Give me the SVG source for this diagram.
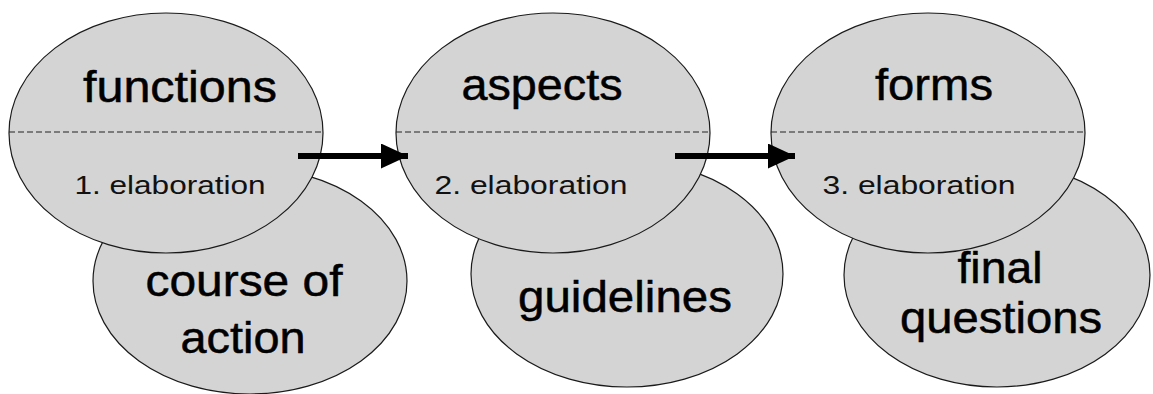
<svg xmlns="http://www.w3.org/2000/svg" width="1153" height="394" viewBox="0 0 1153 394">
<style>
.el{fill:#d4d4d4;stroke:#1a1a1a;stroke-width:1.2}
.dash{stroke:#222;stroke-width:1.2;stroke-dasharray:6 3}
.big{font-family:"Liberation Sans",Arial,sans-serif;font-size:45px;fill:#000;stroke:#000;stroke-width:0.5;text-anchor:middle}
.small{font-family:"Liberation Sans",Arial,sans-serif;font-size:26px;fill:#111;text-anchor:middle}
.conn{stroke:#000;stroke-width:6;fill:none}
</style>
<defs>
<marker id="ah" markerUnits="userSpaceOnUse" markerWidth="30" markerHeight="26" refX="27" refY="12.5" orient="auto">
<path d="M0,0 L27,12.5 L0,25 Z" fill="#000"/>
</marker>
</defs>
<rect width="1153" height="394" fill="#fff"/>
<g id="node-course">
<ellipse class="el" cx="250" cy="281" rx="157" ry="113"/>
<text class="big" x="244" y="296" textLength="197" lengthAdjust="spacingAndGlyphs">course of</text>
<text class="big" x="243" y="353" textLength="125" lengthAdjust="spacingAndGlyphs">action</text>
</g>
<g id="node-guidelines">
<ellipse class="el" cx="627" cy="274" rx="156" ry="113"/>
<text class="big" x="625" y="312" textLength="214" lengthAdjust="spacingAndGlyphs">guidelines</text>
</g>
<g id="node-final">
<ellipse class="el" cx="997" cy="275" rx="153" ry="112"/>
<text class="big" x="1000" y="283" textLength="85" lengthAdjust="spacingAndGlyphs">final</text>
<text class="big" x="1001" y="333" textLength="202" lengthAdjust="spacingAndGlyphs">questions</text>
</g>
<g id="node-functions">
<ellipse class="el" cx="166" cy="133" rx="157" ry="120"/>
<line class="dash" x1="9" y1="132" x2="323" y2="132"/>
<text class="big" x="180" y="102" textLength="194" lengthAdjust="spacingAndGlyphs">functions</text>
<text class="small" x="170" y="194" textLength="191" lengthAdjust="spacingAndGlyphs">1. elaboration</text>
</g>
<g id="node-aspects">
<ellipse class="el" cx="553" cy="133" rx="157" ry="120"/>
<line class="dash" x1="396" y1="132" x2="710" y2="132"/>
<text class="big" x="542" y="100" textLength="161" lengthAdjust="spacingAndGlyphs">aspects</text>
<text class="small" x="531" y="194" textLength="193" lengthAdjust="spacingAndGlyphs">2. elaboration</text>
</g>
<g id="node-forms">
<ellipse class="el" cx="928" cy="133" rx="157" ry="120"/>
<line class="dash" x1="771" y1="132" x2="1085" y2="132"/>
<text class="big" x="934" y="100" textLength="118" lengthAdjust="spacingAndGlyphs">forms</text>
<text class="small" x="919" y="194" textLength="193" lengthAdjust="spacingAndGlyphs">3. elaboration</text>
</g>
<g id="connectors">
<line class="conn" x1="298" y1="156" x2="408" y2="156" marker-end="url(#ah)"/>
<line class="conn" x1="675" y1="156" x2="795" y2="156" marker-end="url(#ah)"/>
</g>
</svg>
